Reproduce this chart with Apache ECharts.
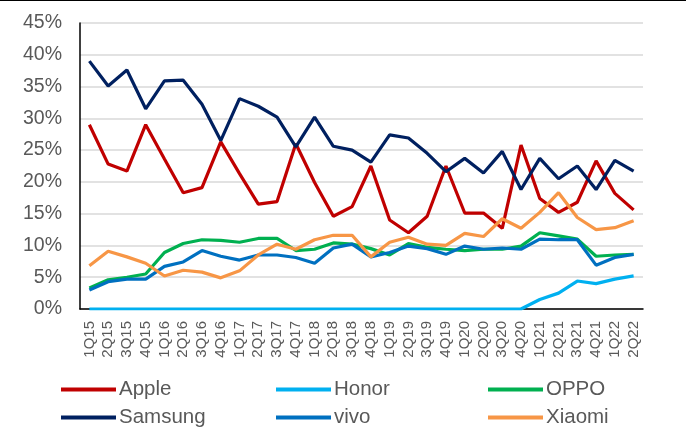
<!DOCTYPE html>
<html>
<head>
<meta charset="utf-8">
<script src="https://cdn.jsdelivr.net/npm/echarts@6/dist/echarts.min.js"></script>
<style>
html,body{margin:0;padding:0;background:#fff;}
#chart{width:686px;height:432px;}
</style>
</head>
<body>
<div id="chart"></div>
<script>
const categories = ['1Q15','2Q15','3Q15','4Q15','1Q16','2Q16','3Q16','4Q16','1Q17','2Q17','3Q17','4Q17','1Q18','2Q18','3Q18','4Q18','1Q19','2Q19','3Q19','4Q19','1Q20','2Q20','3Q20','4Q20','1Q21','2Q21','3Q21','4Q21','1Q22','2Q22'];
const apple   = [29.0,22.8,21.7,29.0,23.6,18.3,19.1,26.3,21.3,16.5,16.9,26.0,19.9,14.6,16.1,22.5,14.0,12.0,14.6,22.5,15.1,15.1,12.7,25.8,17.4,15.2,16.8,23.3,18.2,15.6];
const honor   = [0,0,0,0,0,0,0,0,0,0,0,0,0,0,0,0,0,0,0,0,0,0,0,0,1.5,2.5,4.4,4.0,4.7,5.2];
const oppo    = [3.3,4.6,5.0,5.5,8.9,10.3,10.9,10.8,10.5,11.1,11.1,9.2,9.4,10.4,10.2,9.5,8.5,10.3,9.7,9.4,9.2,9.4,9.4,9.9,12.0,11.5,11.0,8.3,8.5,8.6];
const samsung = [39.0,35.1,37.6,31.5,35.9,36.0,32.2,26.5,33.1,31.9,30.2,25.5,30.2,25.6,25.0,23.1,27.4,26.9,24.5,21.6,23.7,21.4,24.8,18.8,23.7,20.5,22.5,18.8,23.4,21.7];
const vivo    = [3.0,4.3,4.7,4.7,6.7,7.4,9.2,8.3,7.7,8.5,8.5,8.1,7.2,9.6,10.2,8.2,8.9,9.9,9.5,8.6,9.9,9.4,9.6,9.4,11.0,10.9,10.9,6.9,8.1,8.6];
const xiaomi  = [6.8,9.1,8.2,7.2,5.2,6.1,5.8,4.9,6.0,8.5,10.2,9.4,10.9,11.6,11.6,8.2,10.5,11.3,10.2,10.0,11.9,11.4,14.2,12.7,15.2,18.3,14.4,12.5,12.8,13.9];

const seriesNames = ['Apple','Honor','OPPO','Samsung','vivo','Xiaomi'];
const seriesData = [apple, honor, oppo, samsung, vivo, xiaomi];
const colors = ['#C00000','#00B0F0','#00B050','#002060','#0070C0','#F79646'];
const legendPos = [[61,379],[276,379],[488,379],[61,407],[276,407],[488,407]];

const chart = echarts.init(document.getElementById('chart'), null, {renderer:'canvas'});
const font = 'Liberation Sans, Arial, sans-serif';

chart.setOption({
  animation:false,
  backgroundColor:'#ffffff',
  graphic:[{type:'line', shape:{x1:0,y1:0.5,x2:686,y2:0.5}, style:{stroke:'#000',lineWidth:1.2}}],
  grid:{left:80,right:43,top:23,bottom:123},
  legend: seriesNames.map((n,i)=>({
    data:[n], left:legendPos[i][0], top:legendPos[i][1], padding:0,
    icon:'rect', itemWidth:55, itemHeight:4, itemGap:0,
    textStyle:{fontFamily:font,fontSize:20.5,color:'#595959',lineHeight:20,padding:[0,0,0,-2]}
  })),
  xAxis:{
    type:'category', data:categories, boundaryGap:true,
    axisLine:{show:true,lineStyle:{color:'#000',width:1.5}},
    axisTick:{show:false},
    axisLabel:{rotate:90,interval:0,margin:12,fontFamily:font,fontSize:15,color:'#595959'}
  },
  yAxis:{
    type:'value', min:0, max:45, interval:5,
    axisLine:{show:true,lineStyle:{color:'#000',width:1.5}},
    axisTick:{show:false},
    splitLine:{lineStyle:{color:'#d9d9d9',width:1.5}},
    axisLabel:{formatter:'{value}%',margin:18,fontFamily:font,fontSize:19.5,color:'#595959'}
  },
  series: seriesNames.map((n,i)=>({
    name:n, type:'line', data:seriesData[i], symbol:'none',
    lineStyle:{color:colors[i],width:3.2}, itemStyle:{color:colors[i]},
    z: n==='Honor'?1:2
  }))
});
</script>
</body>
</html>
